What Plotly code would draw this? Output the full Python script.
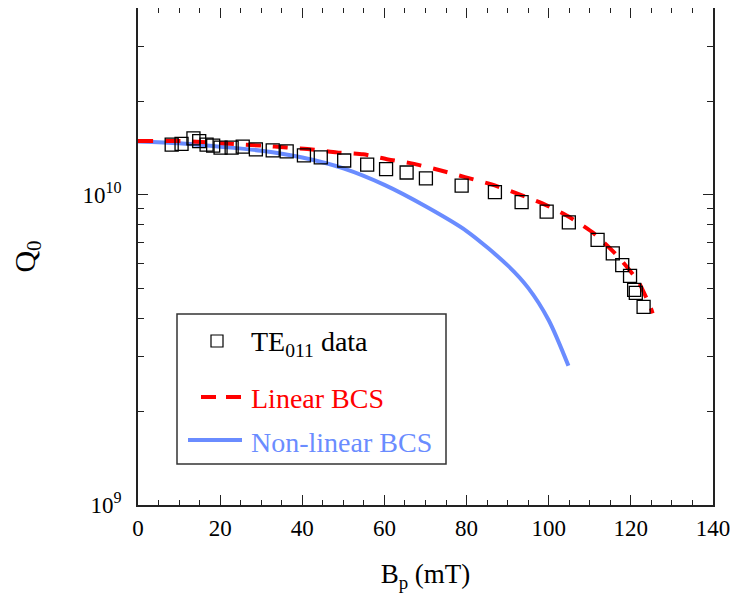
import plotly.graph_objects as go

# ---- data ----
data_bp = [8.2, 10.6, 13.5, 14.9, 16.7, 18.3, 20.1, 22.8, 25.5, 28.7, 32.8, 36.2, 40.4, 44.5,
           50.2, 55.8, 60.4, 65.4, 70.1, 78.8, 86.9, 93.4, 99.5, 104.9, 111.9, 115.6, 117.9,
           119.8, 120.8, 121.2, 123.1]
data_q0 = [1.45e10, 1.46e10, 1.52e10, 1.49e10, 1.45e10, 1.44e10, 1.42e10, 1.42e10, 1.43e10,
           1.40e10, 1.39e10, 1.38e10, 1.34e10, 1.32e10, 1.29e10, 1.25e10, 1.21e10, 1.18e10,
           1.13e10, 1.07e10, 1.02e10, 9.47e9, 8.83e9, 8.15e9, 7.16e9, 6.47e9, 5.93e9, 5.48e9,
           4.94e9, 4.83e9, 4.35e9]

lin_bp = [0, 11.0, 22.4, 30.4, 36.2, 42.3, 48.4, 54.8, 60.9, 66.9, 73.5, 79.6, 86.1, 92.2,
          98.3, 104.8, 110.9, 116.9, 121.8, 124.7, 125.3]
lin_q0 = [1.49e10, 1.49e10, 1.46e10, 1.44e10, 1.42e10, 1.40e10, 1.37e10, 1.35e10, 1.30e10,
          1.26e10, 1.20e10, 1.14e10, 1.08e10, 1.01e10, 9.40e9, 8.51e9, 7.52e9, 6.32e9,
          5.25e9, 4.37e9, 4.15e9]

nl_bp = [0, 10, 20, 30, 40, 50, 60, 70, 80, 90, 95, 100, 104.8]
nl_q0 = [1.486e10, 1.466e10, 1.429e10, 1.387e10, 1.318e10, 1.216e10, 1.076e10, 9.18e9,
         7.64e9, 5.92e9, 5.01e9, 3.94e9, 2.81e9]

x_ticks = [0, 20, 40, 60, 80, 100, 120, 140]
y_ticks = [1e9, 1e10]
y_ticktext = ["10<sup>9</sup>", "10<sup>10</sup>"]
y_minor = [2e9, 3e9, 4e9, 5e9, 6e9, 7e9, 8e9, 9e9, 2e10, 3e10, 4e10]

legend_names = ["TE<sub>011</sub> data", "Linear BCS", "Non-linear BCS"]

RED = "#FF0000"
BLUE = "#6A8CFF"
FONT = "Liberation Serif"

fig = go.Figure()
fig.add_trace(go.Scatter(x=nl_bp, y=nl_q0, mode="lines",
                         line=dict(color=BLUE, width=4, shape="spline", smoothing=0.8),
                         showlegend=False))
fig.add_trace(go.Scatter(x=lin_bp, y=lin_q0, mode="lines",
                         line=dict(color=RED, width=4, dash="15px,12px", shape="spline",
                                   smoothing=0.6),
                         showlegend=False))
fig.add_trace(go.Scatter(x=data_bp, y=data_q0, mode="markers",
                         marker=dict(symbol="square-open", size=13, color="black",
                                     line=dict(width=1.3, color="black")),
                         showlegend=False))

# page body has an 8px margin: the figure is laid out so the plot lands where the reference has it
OFF = 8
L, R, T, B = 138, 713, 8, 505
W, H = 742 - OFF, 606 - OFF
PW, PH = R - L, B - T


def px(x):
    return (x - L) / PW


def py(y):
    return (B - y) / PH


# manual legend box
fig.add_shape(type="rect", xref="paper", yref="paper",
              x0=px(177), x1=px(446), y0=py(464), y1=py(314),
              line=dict(color="#333333", width=1.5), fillcolor="white", layer="above")
fig.add_shape(type="rect", xref="paper", yref="paper",
              x0=px(211), x1=px(223), y0=py(347), y1=py(335),
              line=dict(color="black", width=1.2), layer="above")
fig.add_shape(type="line", xref="paper", yref="paper",
              x0=px(201), x1=px(242), y0=py(397), y1=py(397),
              line=dict(color=RED, width=4, dash="15px,10px"), layer="above")
fig.add_shape(type="line", xref="paper", yref="paper",
              x0=px(188), x1=px(242), y0=py(440), y1=py(440),
              line=dict(color=BLUE, width=4), layer="above")

legend_y = [343, 398, 442]
legend_colors = ["black", RED, BLUE]
for name, yy, col in zip(legend_names, legend_y, legend_colors):
    fig.add_annotation(xref="paper", yref="paper", x=px(249), y=py(yy),
                       xanchor="left", yanchor="middle", text=name, showarrow=False,
                       font=dict(family=FONT, size=28, color=col))

axis_common = dict(showline=True, linecolor="#222222", linewidth=1.5, mirror="allticks",
                   ticks="inside", ticklen=10, tickwidth=1.2, tickcolor="#222222",
                   showgrid=False, zeroline=False)

fig.update_xaxes(range=[0, 140], tickmode="array", tickvals=x_ticks,
                 minor=dict(ticks="inside", ticklen=5, tickwidth=1.2, tickcolor="#222222",
                            dtick=5, showgrid=False),
                 ticklabelstandoff=2,
                 tickfont=dict(family=FONT, size=23, color="black"),
                 title=dict(text="B<sub>p</sub> (mT)", font=dict(family=FONT, size=27, color="black"),
                            standoff=24),
                 **axis_common)
fig.update_yaxes(type="log", range=[9, 10.6021], tickmode="array", tickvals=y_ticks,
                 ticktext=y_ticktext,
                 minor=dict(ticks="inside", ticklen=6, tickwidth=1.2, tickcolor="#222222",
                            tickmode="array", tickvals=y_minor, showgrid=False),
                 ticklabelstandoff=10,
                 tickfont=dict(family=FONT, size=23, color="black"),
                 title=dict(text="Q<sub>0</sub>", font=dict(family=FONT, size=30, color="black"),
                            standoff=46),
                 **axis_common)

fig.update_layout(width=W, height=H,
                  margin=dict(l=L - OFF, r=742 - R, t=T - OFF, b=606 - B, autoexpand=False),
                  plot_bgcolor="white", paper_bgcolor="white", showlegend=False,
                  font=dict(family=FONT, color="black"))

fig.write_html("out.html")
